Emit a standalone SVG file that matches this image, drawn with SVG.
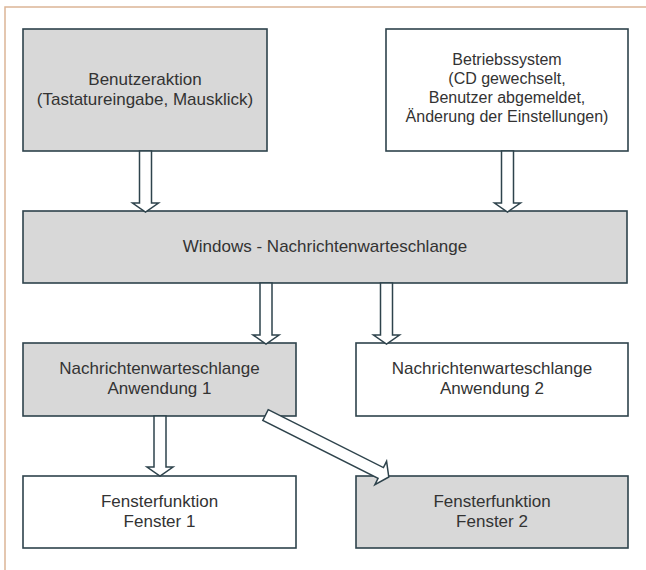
<svg xmlns="http://www.w3.org/2000/svg" width="646" height="570" viewBox="0 0 646 570">
<style>
.box{stroke:#2e434c;stroke-width:1.6}
.gray{fill:#d8d8d8}
.white{fill:#ffffff}
.t{font-family:"Liberation Sans",Arial,sans-serif;font-size:17px;fill:#333333;text-anchor:middle}
.ts{font-size:16px}
.arr{fill:#ffffff;stroke:#2e434c;stroke-width:1.5;stroke-linejoin:miter}
.frame{fill:none;stroke:#dcb597;stroke-width:1.5}
</style>
<rect width="646" height="570" fill="#ffffff"/>
<path class="frame" d="M646,7 H5 V570"/>
<g id="benutzeraktion">
<rect class="box gray" x="23" y="29" width="244" height="122"/>
<text class="t" x="145" y="85">Benutzeraktion</text>
<text class="t" x="145" y="105">(Tastatureingabe, Mausklick)</text>
</g>
<g id="betriebssystem">
<rect class="box white" x="386" y="29" width="242" height="122"/>
<text class="t ts" x="507" y="65">Betriebssystem</text>
<text class="t ts" x="507" y="84">(CD gewechselt,</text>
<text class="t ts" x="507" y="103">Benutzer abgemeldet,</text>
<text class="t ts" x="507" y="122">Änderung der Einstellungen)</text>
</g>
<g id="windows">
<rect class="box gray" x="23" y="211" width="604" height="72"/>
<text class="t" x="325" y="252">Windows - Nachrichtenwarteschlange</text>
</g>
<g id="anwendung1">
<rect class="box gray" x="23" y="343" width="273" height="73"/>
<text class="t" x="159.5" y="374">Nachrichtenwarteschlange</text>
<text class="t" x="159.5" y="394">Anwendung 1</text>
</g>
<g id="anwendung2">
<rect class="box white" x="356" y="343" width="272" height="73"/>
<text class="t" x="492" y="374">Nachrichtenwarteschlange</text>
<text class="t" x="492" y="394">Anwendung 2</text>
</g>
<g id="fenster1">
<rect class="box white" x="23" y="476" width="273" height="72"/>
<text class="t" x="159.5" y="507">Fensterfunktion</text>
<text class="t" x="159.5" y="527">Fenster 1</text>
</g>
<g id="fenster2">
<rect class="box gray" x="356" y="476" width="272" height="72"/>
<text class="t" x="492" y="507">Fensterfunktion</text>
<text class="t" x="492" y="527">Fenster 2</text>
</g>
<g id="connectors">
<polygon class="arr" points="139.5,151 151.5,151 151.5,203 158.5,203 145.5,212 132.5,203 139.5,203"/>
<polygon class="arr" points="501.5,151 513.5,151 513.5,203 520.5,203 507.5,212 494.5,203 501.5,203"/>
<polygon class="arr" points="260,283 272,283 272,335 279,335 266,344 253,335 260,335"/>
<polygon class="arr" points="380.5,283 392.5,283 392.5,335 399.5,335 386.5,344 373.5,335 380.5,335"/>
<polygon class="arr" points="154,416 166,416 166,467 173,467 160,476 147,467 154,467"/>
<polygon class="arr" transform="translate(265.5,415) rotate(26.7)" points="0,-6 129,-6 129,-13 138,0 129,13 129,6 0,6"/>
</g>
</svg>
